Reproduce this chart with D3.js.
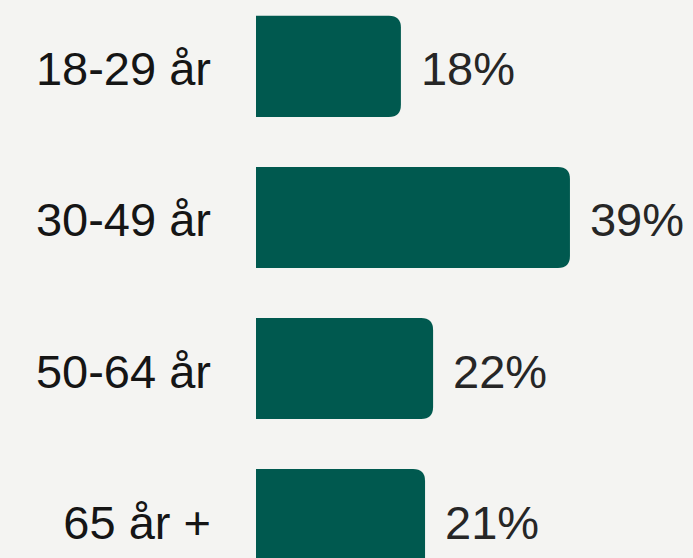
<!DOCTYPE html>
<html>
<head>
<meta charset="utf-8">
<script src="https://d3js.org/d3.v7.min.js"></script>
<style>
  html, body { margin: 0; padding: 0; background: #f4f4f2; }
  svg { display: block; }
  text { font-family: "Helvetica Neue", Helvetica, "Liberation Sans", Arial, sans-serif; }
</style>
</head>
<body>
<div id="chart"></div>
<script>
// Set dimensions
const width = 693;
const height = 558;

// chart data
const categories = ["18-29 år", "30-49 år", "50-64 år", "65 år +"];
const values = [18, 39, 22, 21];

const data = categories.map((c, i) => ({name: c, value: values[i]}));

const svg = d3.select("#chart")
  .append("svg")
  .attr("width", width)
  .attr("height", height);

svg.append("rect")
  .attr("width", width)
  .attr("height", height)
  .attr("fill", "#f4f4f2");

// scales
const x = d3.scaleLinear()
  .domain([0, 40])
  .range([256, 256 + 322]);

const y = d3.scaleBand()
  .domain(categories)
  .range([-34, 620])
  .padding(0.33);

const r = 12; // corner radius on the right end

// bar path: square on left, rounded on right
function barPath(d) {
  const x0 = x(0), x1 = x(d.value);
  const y0 = y(d.name), y1 = y0 + y.bandwidth();
  return `M${x0},${y0} H${x1 - r} Q${x1},${y0} ${x1},${y0 + r} V${y1 - r} Q${x1},${y1} ${x1 - r},${y1} H${x0} Z`;
}

svg.selectAll(".bar")
  .data(data)
  .enter()
  .append("path")
    .attr("class", "bar")
    .attr("d", barPath)
    .attr("fill", "#00594f");

// category labels
svg.selectAll(".cat")
  .data(data)
  .enter()
  .append("text")
    .attr("class", "cat")
    .attr("x", 211)
    .attr("y", d => y(d.name) + y.bandwidth() / 2 + 19)
    .attr("text-anchor", "end")
    .attr("font-size", 47)
    .attr("fill", "#151515")
    .text(d => d.name);

// value labels
svg.selectAll(".val")
  .data(data)
  .enter()
  .append("text")
    .attr("class", "val")
    .attr("x", d => x(d.value) + 20)
    .attr("y", d => y(d.name) + y.bandwidth() / 2 + 19)
    .attr("font-size", 47)
    .attr("fill", "#262626")
    .text(d => d.value + "%");
</script>
</body>
</html>
